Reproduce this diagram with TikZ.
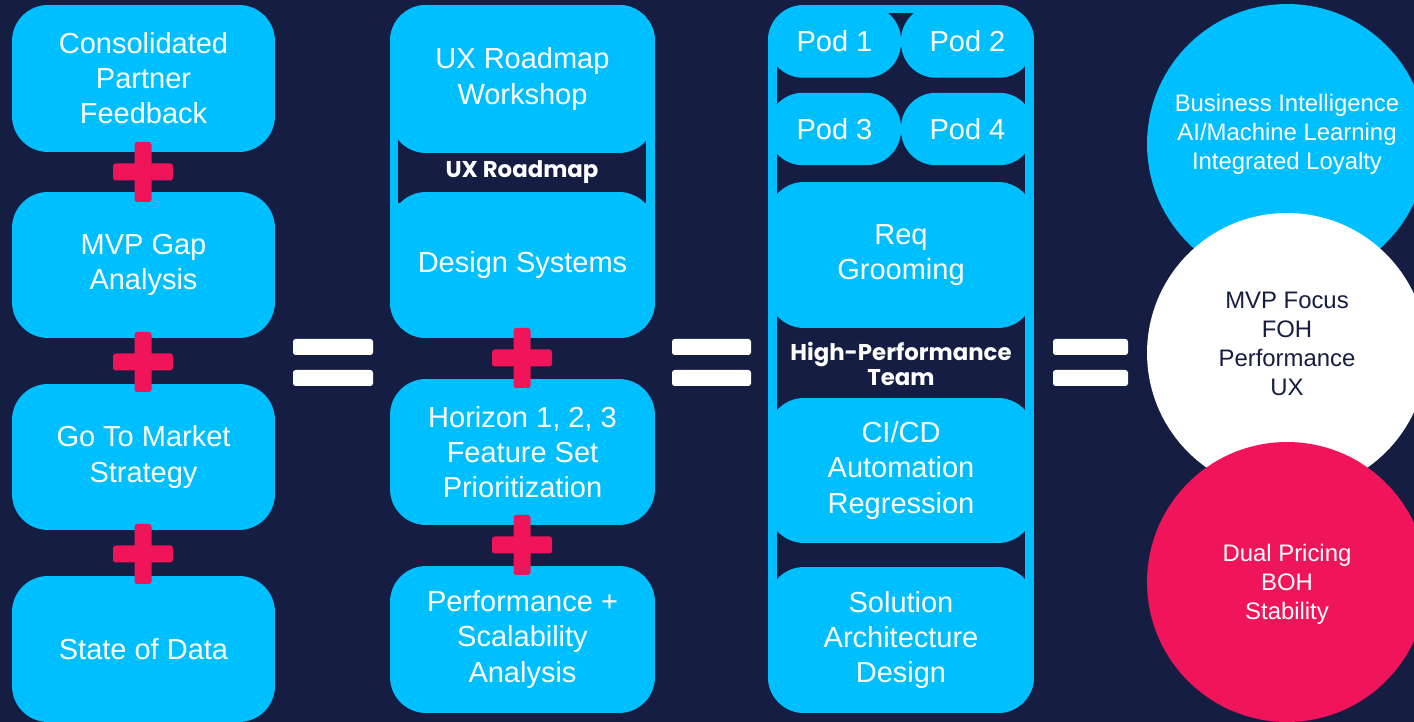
\documentclass[tikz,border=0pt]{standalone}
\usepackage{fontspec}
\setmainfont{Liberation Sans}
\newfontfamily\bandfont{Poppins}
\usetikzlibrary{positioning}
\definecolor{navybg}{RGB}{21,30,66}
\definecolor{skyblue}{RGB}{0,191,255}
\definecolor{hotpink}{RGB}{240,20,90}

\tikzset{
  tile/.style={fill=skyblue, rounded corners=0.72cm, text=white, align=center, inner sep=0pt, font=\fontsize{16.5}{20}\selectfont},
  pod/.style={tile, rounded corners=0.7cm, minimum width=2.66cm, minimum height=1.45cm},
  band/.style={text=white, align=center, inner sep=0pt, font=\bandfont\bfseries\fontsize{13}{14.2}\selectfont},
  disc/.style={circle, minimum size=5.6cm, inner sep=0pt},
  disctext/.style={align=center, inner sep=0pt, font=\fontsize{13.6}{16.5}\selectfont},
  bar/.style={fill=white, rounded corners=1.5pt},
  crossbar/.style={fill=hotpink, rounded corners=1.5pt}
}

\begin{document}
\begin{tikzpicture}[x=0.02cm, y=-0.02cm]
    \useasboundingbox (0,0) rectangle (1414,722);
    \clip (0,0) rectangle (1414,722);
    \fill[navybg] (0,0) rectangle (1414,722);

    % inputs
    \node[tile, minimum width=5.26cm, minimum height=2.94cm] (feedback) at (143.5,78.5) {Consolidated\\Partner\\Feedback};
    \node[tile, minimum width=5.26cm, minimum height=2.92cm] (gapan) at (143.5,265) {MVP Gap\\Analysis};
    \node[tile, minimum width=5.26cm, minimum height=2.92cm] (gotomarket) at (143.5,457) {Go To Market\\Strategy};
    \node[tile, minimum width=5.26cm, minimum height=2.92cm] (datastate) at (143.5,649) {State of Data};

    % roadmap column
    \node[tile, minimum width=5.3cm, minimum height=6.66cm] (uxframe) at (522.5,171.5) {};
    \fill[navybg] (398,140) rectangle (646,203);
    \node[tile, minimum width=5.3cm, minimum height=2.96cm] (workshop) at (522.5,79) {UX Roadmap\\Workshop};
    \node[tile, minimum width=5.3cm, minimum height=2.92cm] (designsys) at (522.5,265) {Design Systems};
    \node[band] (uxband) at (522,172) {UX Roadmap};
    \node[tile, minimum width=5.3cm, minimum height=2.92cm] (horizon) at (522.5,452) {Horizon 1, 2, 3\\Feature Set\\Prioritization};
    \node[tile, minimum width=5.3cm, minimum height=2.94cm] (scaling) at (522.5,639.5) {Performance +\\Scalability\\Analysis};

    % team column
    \node[tile, minimum width=5.32cm, minimum height=14.16cm] (teamframe) at (901,359) {};
    \fill[navybg] (777,13) rectangle (1025,600);
    \node[pod] (podA) at (834.5,41.5) {Pod 1};
    \node[pod] (podB) at (967.5,41.5) {Pod 2};
    \node[pod] (podC) at (834.5,129) {Pod 3};
    \node[pod] (podD) at (967.5,129) {Pod 4};
    \node[tile, minimum width=5.32cm, minimum height=2.92cm] (grooming) at (901,255) {Req\\Grooming};
    \node[band] (hpteam) at (901,364) {High-Performance\\Team};
    \node[tile, minimum width=5.32cm, minimum height=2.9cm] (cicd) at (901,470.5) {CI/CD\\Automation\\Regression};
    \node[tile, minimum width=5.32cm, minimum height=2.92cm] (solarch) at (901,640) {Solution\\Architecture\\Design};

    % outcomes
    \node[disc, fill=skyblue] (bizint) at (1287,144) {};
    \node[disctext, text=white] (bizinttext) at ([yshift=0.2cm]bizint.center) {Business Intelligence\\AI/Machine Learning\\Integrated Loyalty};
    \node[disc, fill=white] (mvpfocus) at (1287,353) {};
    \node[disctext, text=navybg] (mvpfocustext) at ([yshift=0.19cm]mvpfocus.center) {MVP Focus\\FOH\\Performance\\UX};
    \node[disc, fill=hotpink] (pricing) at (1287,582) {};
    \node[disctext, text=white] (pricingtext) at ([yshift=-0.05cm]pricing.center) {Dual Pricing\\BOH\\Stability};

    % plus signs
    \foreach \cx/\cy in {143/172, 143/362, 143/554, 522/358, 522/545} {
        \fill[crossbar] (\cx-30,\cy-8.5) rectangle (\cx+30,\cy+8.5);
        \fill[crossbar] (\cx-8.5,\cy-30) rectangle (\cx+8.5,\cy+30);
    }

    % equals signs
    \foreach \ex/\ew in {293/80, 672/79, 1053/75} {
        \fill[bar] (\ex,339) rectangle (\ex+\ew,355);
        \fill[bar] (\ex,370) rectangle (\ex+\ew,386);
    }
\end{tikzpicture}
\end{document}
